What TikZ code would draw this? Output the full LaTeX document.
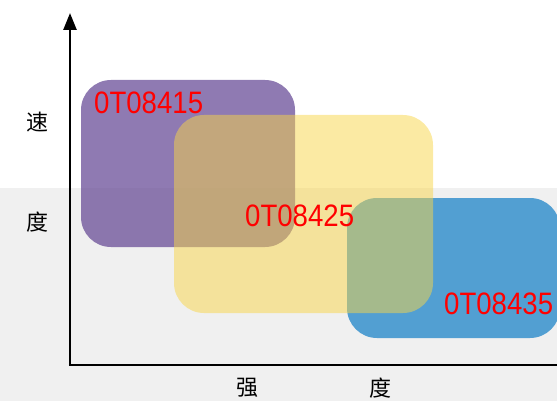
\documentclass[tikz,border=0pt]{standalone}
\usepackage{fontspec}
\usepackage{tikz}
\usetikzlibrary{calc}
\usetikzlibrary{arrows.meta}
\newfontfamily\cjk{Noto Sans CJK SC}
\newfontfamily\codefont[FakeStretch=0.89]{Liberation Sans}

\definecolor{bandgray}{RGB}{240,240,240}
\definecolor{lotpurple}{RGB}{102,73,149}
\definecolor{lotyellow}{RGB}{248,214,72}
\definecolor{lotblue}{RGB}{82,159,210}

\begin{document}
\begin{tikzpicture}[x=1pt,y=-1pt,
	lotcode/.style={text=red,inner sep=0pt,font=\codefont\fontsize{31}{31}\selectfont},
	axislabel/.style={inner sep=0pt,font=\cjk\fontsize{22}{22}\selectfont}]
	\useasboundingbox (0,0) rectangle (557,401);

	%% light band behind the lower half
	\fill[bandgray] (0,188) rectangle (557,401);

	%% corners of the axes
	\coordinate (O) at (70,365); % origin
	\coordinate (Ytop) at (70,13); % tip of the vertical arrow
	\coordinate (Xend) at (557,365); % end of the horizontal axis

	%% the three lots (yellow lies over the others)
	\fill[lotpurple,fill opacity=0.73,rounded corners=30pt] (81,80) rectangle (295,247); % lot 15
	\coordinate (P15) at (81,80);
	\fill[lotblue,rounded corners=30pt] (347,198) rectangle (560,338); % lot 35
	\coordinate (P35) at (347,198);
	\fill[lotyellow,fill opacity=0.5,rounded corners=30pt] (174,115) rectangle (433,313); % lot 25
	\coordinate (P25) at (174,115);

	%% names of the lots
	\node[lotcode,anchor=base west] (t15) at ($(P15)+(13,34)$) {0T08415};
	\node[lotcode,anchor=base west] (t25) at ($(P25)+(71,111)$) {0T08425};
	\node[lotcode,anchor=base west] (t35) at ($(P35)+(97,116)$) {0T08435};

	%% axes
	\draw[line width=2.5pt,-{Triangle[length=17pt,width=13pt]}] (O) -- (Ytop);
	\draw[line width=2.5pt] ($(O)+(-1.25,0)$) -- (Xend);

	% axis names
	\node[axislabel] (v1) at (38,122) {速};
	\node[axislabel] (v2) at (38,222) {度};
	\node[axislabel] (h1) at (247,388) {强};
	\node[axislabel] (h2) at (380,388) {度};
\end{tikzpicture}
\end{document}
